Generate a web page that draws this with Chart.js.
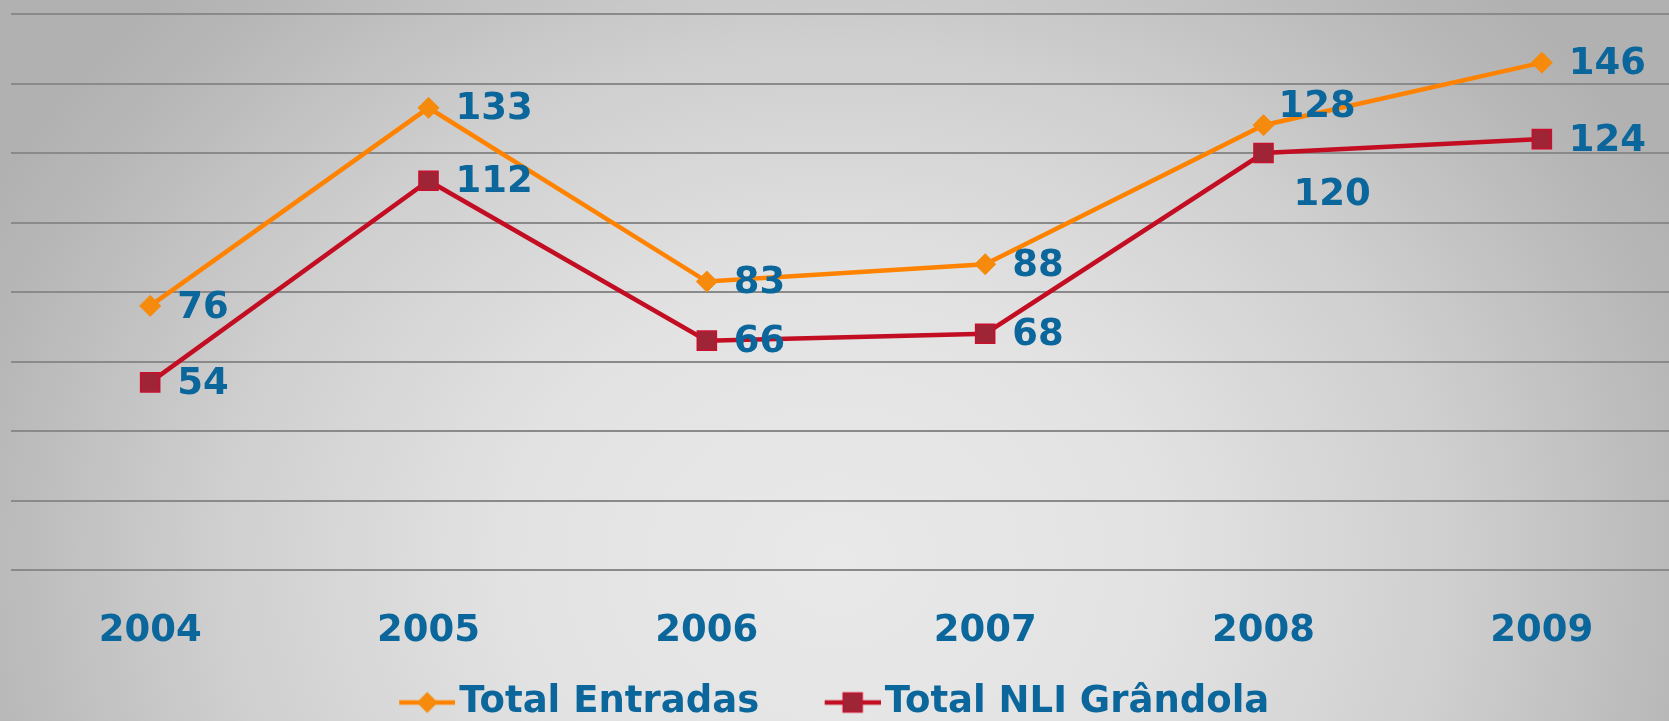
<!DOCTYPE html>
<html>
<head>
<meta charset="utf-8">
<script src="https://cdn.jsdelivr.net/npm/chart.js@4"></script>
<style>
    html, body {
        margin: 0;
        width: 1669px;
        height: 721px;
        overflow: hidden;
        background: radial-gradient(ellipse 950px 800px at 50% 78%, #e9e9e9 0%, #e2e2e2 35%, #cfcfcf 65%, #b8b8b8 90%, #b1b1b1 100%);
    }
    #wrap {
        position: absolute;
        left: -47px;
        top: 0;
    }
</style>
</head>
<body>
<div id="wrap">
    <canvas id="chartEntradas" width="1728" height="731"></canvas>
</div>
<script>
const anos = ['2004', '2005', '2006', '2007', '2008', '2009'];
const totalEntradas = [76, 133, 83, 88, 128, 146];
const totalNLI = [54, 112, 66, 68, 120, 124];

const azul = '#0a669b';
const fonte = "'DejaVu Sans', Verdana, sans-serif";

Chart.defaults.font.family = fonte;

// legend swatch: short line with the marker on top, drawn at the right end
// of the image so it sits just before the legend text
function swatch(cor, desenhaMarca) {
    const c = document.createElement('canvas');
    c.width = 105;
    c.height = 24;
    const ctx = c.getContext('2d');
    ctx.strokeStyle = cor;
    ctx.lineWidth = 4.5;
    ctx.beginPath();
    ctx.moveTo(49, 12);
    ctx.lineTo(105, 12);
    ctx.stroke();
    desenhaMarca(ctx, 77, 12);
    return c;
}

const swatchEntradas = swatch('#ff8300', (ctx, x, y) => {
    ctx.fillStyle = '#f58a0c';
    ctx.beginPath();
    ctx.moveTo(x - 10.5, y);
    ctx.lineTo(x, y - 10.5);
    ctx.lineTo(x + 10.5, y);
    ctx.lineTo(x, y + 10.5);
    ctx.closePath();
    ctx.fill();
});

const swatchNLI = swatch('#c20d22', (ctx, x, y) => {
    ctx.fillStyle = '#9e2436';
    ctx.strokeStyle = '#c8102e';
    ctx.lineWidth = 1.5;
    ctx.fillRect(x - 9.5, y - 9.5, 19, 19);
    ctx.strokeRect(x - 9.5, y - 9.5, 19, 19);
});

// value labels next to each point
const rotulos = {
    id: 'rotulos',
    afterDatasetsDraw(chart, args, opts) {
        const ctx = chart.ctx;
        ctx.save();
        ctx.font = `bold 37px ${fonte}`;
        ctx.fillStyle = azul;
        ctx.textAlign = 'left';
        ctx.textBaseline = 'middle';
        chart.data.datasets.forEach((ds, d) => {
            chart.getDatasetMeta(d).data.forEach((pt, i) => {
                const ajuste = (opts.ajustes[d] && opts.ajustes[d][i]) || [27, 2];
                ctx.fillText(ds.data[i], pt.x + ajuste[0], pt.y + ajuste[1]);
            });
        });
        ctx.restore();
    }
};

new Chart(document.getElementById('chartEntradas').getContext('2d'), {
    type: 'line',
    data: {
        labels: anos,
        datasets: [{
            label: 'Total Entradas',
            data: totalEntradas,
            borderColor: '#ff8300',
            borderWidth: 4.5,
            tension: 0,
            pointStyle: 'rectRot',
            pointRadius: 10.5,
            pointHoverRadius: 10.5,
            pointBackgroundColor: '#f58a0c',
            pointBorderColor: '#f58a0c',
            pointBorderWidth: 1
        }, {
            label: 'Total NLI Grândola',
            data: totalNLI,
            borderColor: '#c20d22',
            borderWidth: 4.5,
            tension: 0,
            pointStyle: 'rect',
            pointRadius: 13.5,
            pointHoverRadius: 13.5,
            pointBackgroundColor: '#9e2436',
            pointBorderColor: '#c8102e',
            pointBorderWidth: 1.5
        }]
    },
    options: {
        responsive: false,
        animation: false,
        devicePixelRatio: 1,
        layout: {
            autoPadding: false,
            padding: { top: 14, left: 0, right: 0, bottom: 0 }
        },
        plugins: {
            tooltip: { enabled: false },
            legend: {
                position: 'bottom',
                labels: {
                    usePointStyle: true,
                    pointStyleWidth: 76,
                    padding: 31,
                    color: azul,
                    font: { size: 37, weight: 'bold' },
                    generateLabels(chart) {
                        const itens = Chart.defaults.plugins.legend.labels.generateLabels(chart);
                        itens[0].pointStyle = swatchEntradas;
                        itens[1].pointStyle = swatchNLI;
                        return itens;
                    }
                }
            },
            rotulos: {
                ajustes: {
                    0: { 4: [15, -18] },
                    1: { 4: [30, 42] }
                }
            }
        },
        scales: {
            x: {
                offset: true,
                grid: { display: false, drawTicks: false },
                border: { display: false },
                ticks: {
                    color: azul,
                    padding: 39,
                    font: { size: 37, weight: 'bold' }
                },
                afterFit(scale) {
                    scale.height = 83;
                }
            },
            y: {
                min: 0,
                max: 160,
                border: { display: false },
                grid: {
                    color: '#8a8a8a',
                    lineWidth: 2,
                    drawTicks: false
                },
                ticks: {
                    display: false,
                    stepSize: 20
                },
                afterFit(scale) {
                    scale.width = 58;
                }
            }
        }
    },
    plugins: [rotulos]
});
</script>
</body>
</html>
